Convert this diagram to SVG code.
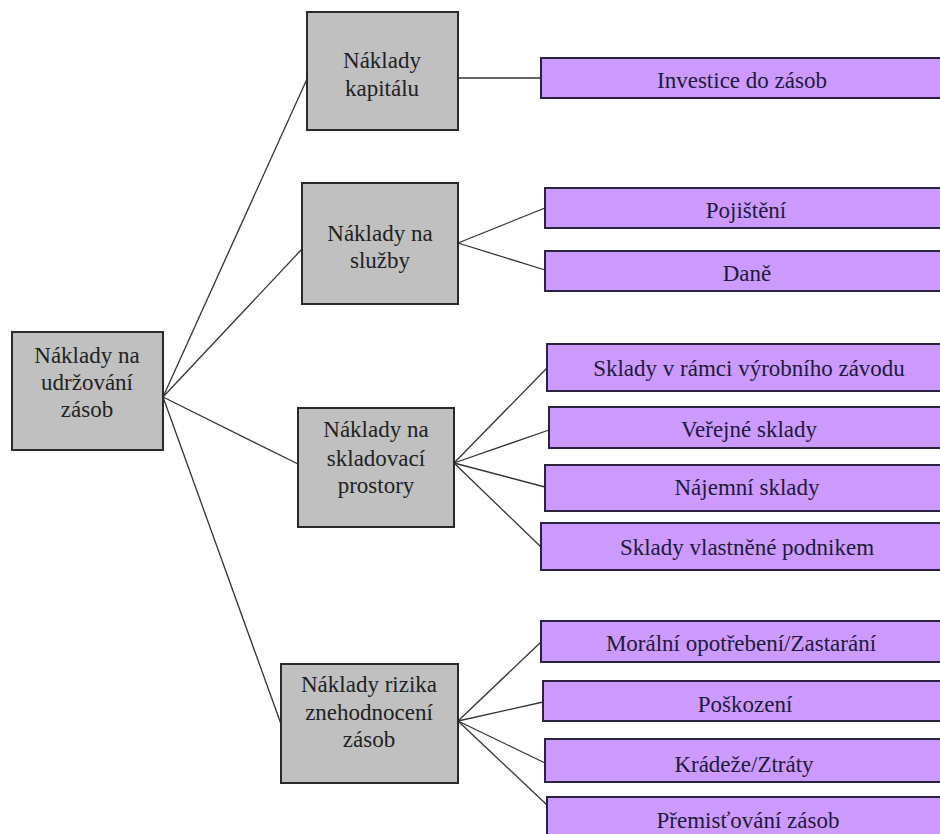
<svg xmlns="http://www.w3.org/2000/svg" width="940" height="834" viewBox="0 0 940 834" font-family="Liberation Serif, DejaVu Serif, serif" font-size="23">
<style>
.g{fill:#c0c0c0;stroke:#2a2a2a;stroke-width:2}
.p{fill:#cc99ff;stroke:#2a2440;stroke-width:2}
text{text-anchor:middle}
.t{fill:#222}
.tp{fill:#1e1a3a}
.c{stroke:#333;stroke-width:1.3;fill:none}
</style>
<rect width="940" height="834" fill="#fff"/>
<g id="connectors">
<line class="c" x1="163" y1="397" x2="307" y2="79"/>
<line class="c" x1="163" y1="397" x2="302" y2="249"/>
<line class="c" x1="163" y1="397" x2="298" y2="464"/>
<line class="c" x1="163" y1="397" x2="281" y2="724"/>
<line class="c" x1="458" y1="78" x2="541" y2="78"/>
<line class="c" x1="458" y1="243" x2="545" y2="208"/>
<line class="c" x1="458" y1="243" x2="545" y2="270"/>
<line class="c" x1="454" y1="463" x2="547" y2="368"/>
<line class="c" x1="454" y1="463" x2="549" y2="430"/>
<line class="c" x1="454" y1="463" x2="545" y2="487"/>
<line class="c" x1="454" y1="463" x2="541" y2="547"/>
<line class="c" x1="458" y1="721" x2="541" y2="642"/>
<line class="c" x1="458" y1="721" x2="543" y2="702"/>
<line class="c" x1="458" y1="721" x2="545" y2="763"/>
<line class="c" x1="458" y1="721" x2="547" y2="805"/>
</g>
<g id="root">
<rect class="g" x="12" y="332" width="151" height="118"/>
<text class="t" x="87" y="363">Náklady na</text>
<text class="t" x="87" y="390">udržování</text>
<text class="t" x="87" y="417">zásob</text>
</g>
<g id="kapital">
<rect class="g" x="307" y="12" width="151" height="118"/>
<text class="t" x="382" y="68">Náklady</text>
<text class="t" x="382" y="96">kapitálu</text>
</g>
<g id="sluzby">
<rect class="g" x="302" y="183" width="156" height="121"/>
<text class="t" x="380" y="241">Náklady na</text>
<text class="t" x="380" y="268">služby</text>
</g>
<g id="sklad">
<rect class="g" x="298" y="408" width="156" height="119"/>
<text class="t" x="376" y="437">Náklady na</text>
<text class="t" x="376" y="466">skladovací</text>
<text class="t" x="376" y="493">prostory</text>
</g>
<g id="riziko">
<rect class="g" x="281" y="664" width="177" height="119"/>
<text class="t" x="369" y="692">Náklady rizika</text>
<text class="t" x="369" y="720">znehodnocení</text>
<text class="t" x="369" y="747">zásob</text>
</g>
<g id="investice">
<rect class="p" x="541" y="58" width="410" height="40"/>
<text class="tp" x="742" y="88">Investice do zásob</text>
</g>
<g id="pojisteni">
<rect class="p" x="545" y="188" width="410" height="40"/>
<text class="tp" x="746" y="218">Pojištění</text>
</g>
<g id="dane">
<rect class="p" x="545" y="251" width="410" height="40"/>
<text class="tp" x="747" y="281">Daně</text>
</g>
<g id="sklady-ramci">
<rect class="p" x="547" y="344" width="410" height="47"/>
<text class="tp" x="749" y="376">Sklady v rámci výrobního závodu</text>
</g>
<g id="verejne">
<rect class="p" x="549" y="407" width="410" height="41"/>
<text class="tp" x="749" y="437">Veřejné sklady</text>
</g>
<g id="najemni">
<rect class="p" x="545" y="465" width="410" height="46"/>
<text class="tp" x="747" y="495">Nájemní sklady</text>
</g>
<g id="vlastnene">
<rect class="p" x="541" y="523" width="410" height="47"/>
<text class="tp" x="747" y="555">Sklady vlastněné podnikem</text>
</g>
<g id="moralni">
<rect class="p" x="541" y="621" width="410" height="41"/>
<text class="tp" x="741" y="651">Morální opotřebení/Zastarání</text>
</g>
<g id="poskozeni">
<rect class="p" x="543" y="681" width="410" height="40"/>
<text class="tp" x="745" y="712">Poškození</text>
</g>
<g id="kradeze">
<rect class="p" x="545" y="739" width="410" height="43"/>
<text class="tp" x="744" y="772">Krádeže/Ztráty</text>
</g>
<g id="premistovani">
<rect class="p" x="547" y="797" width="410" height="45"/>
<text class="tp" x="748" y="828">Přemisťování zásob</text>
</g>
</svg>
